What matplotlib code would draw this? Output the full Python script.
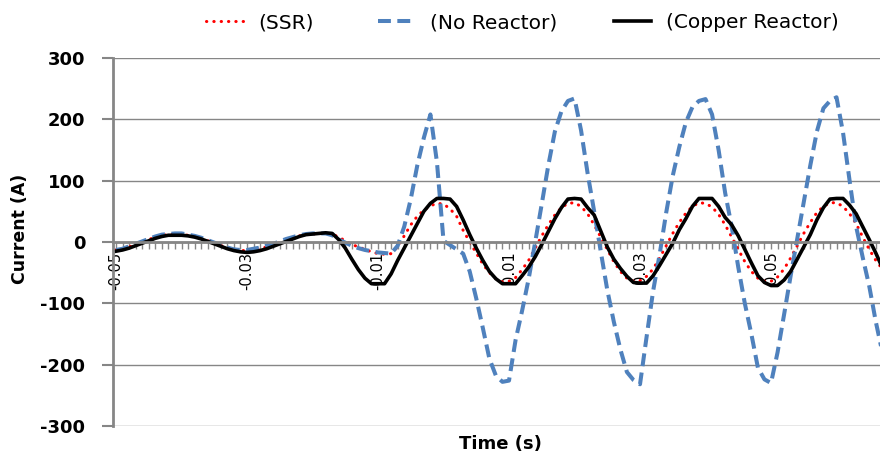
import numpy as np
import matplotlib as mpl
mpl.use('Agg')
import matplotlib.pyplot as plt

mpl.rcParams['axes.unicode_minus'] = False

# time axis: one sample every millisecond, -0.050 s to 0.067 s
time_s = np.arange(-50, 68) / 1000.0

ssr = [-13, -11, -8, -4, 0, 4, 8, 11, 12, 13,
       12, 11, 9, 6, 2, -2, -6, -9, -12, -14,
       -14, -13, -11, -8, -5, -1, 3, 7, 10, 12,
       13, 14, 14, 13, 8, 2, -4, -8, -12, -16,
       -19, -20, -19, -8, 10, 28, 42, 52, 59, 63,
       62, 54, 42, 19, 0, -18, -36, -50, -60, -65,
       -64, -58, -45, -30, -10, 10, 28, 44, 56, 63,
       64, 58, 46, 28, 8, -12, -32, -48, -59, -64,
       -63, -56, -44, -26, -6, 14, 32, 47, 58, 64,
       63, 57, 45, 28, 8, -12, -32, -48, -59, -64,
       -64, -57, -44, -26, -6, 14, 32, 48, 58, 64,
       64, 58, 46, 30, 8, -12, -30, -44]

no_reactor = [-13, -11, -7, -3, 1, 5, 9, 12, 13, 14,
              14, 12, 10, 7, 3, -1, -5, -9, -12, -13,
              -13, -11, -9, -6, -3, 1, 5, 8, 11, 13,
              14, 14, 14, 11, 4, -1, -6, -10, -13, -15,
              -17, -18, -19, -6, 25, 70, 125, 170, 208, 130,
              2, -5, -12, -19, -48, -92, -140, -190, -218, -228,
              -226, -160, -112, -60, 0, 62, 125, 180, 213, 230,
              234, 182, 112, 50, -15, -78, -130, -175, -212, -225,
              -232, -155, -80, -20, 48, 108, 155, 195, 220, 230,
              233, 208, 150, 80, 25, -41, -100, -150, -205, -224,
              -230, -180, -118, -55, 5, 65, 125, 180, 218, 230,
              236, 178, 100, 25, -25, -72, -130, -180]

copper = [-15, -13, -10, -6, -2, 2, 6, 9, 11, 11,
          11, 10, 8, 5, 1, -3, -7, -11, -14, -16,
          -17, -16, -14, -11, -7, -3, 1, 5, 9, 12,
          13, 14, 15, 14, 4, -10, -28, -45, -59, -68,
          -68, -68, -52, -30, -10, 10, 30, 50, 63, 71,
          71, 70, 58, 36, 12, -10, -30, -48, -60, -68,
          -68, -68, -55, -41, -24, -4, 17, 38, 56, 70,
          71, 70, 56, 44, 18, -8, -28, -43, -56, -66,
          -67, -67, -55, -38, -20, -2, 20, 38, 58, 71,
          71, 71, 58, 40, 28, 10, -12, -34, -55, -66,
          -71, -71, -62, -48, -28, -8, 12, 36, 56, 70,
          71, 71, 60, 46, 25, 4, -18, -42]

x_label_pos = [-0.05, -0.03, -0.01, 0.01, 0.03, 0.05]
x_label_txt = ['-0.05', '-0.03', '-0.01', '0.01', '0.03', '0.05']
y_ticks = [-300, -200, -100, 0, 100, 200, 300]

grey = '#868686'

fig = plt.figure(figsize=(8.8, 4.59), dpi=100)
ax = fig.add_axes([113 / 880, 1 - 426 / 459, 767 / 880, 368 / 459])

l_ssr, = ax.plot(time_s, ssr, color='#FF0000', lw=2.2, linestyle=(0, (0.1, 2.3)),
                 dash_capstyle='round', label='(SSR)')
l_no, = ax.plot(time_s, no_reactor, color='#4F81BD', lw=2.9,
                linestyle=(0, (3.2, 1.6)), label='(No Reactor)')
l_cu, = ax.plot(time_s, copper, color='black', lw=2.6, solid_joinstyle='round',
                label='(Copper Reactor)')

ax.set_xlim(-0.05046, 0.06664)
ax.set_ylim(-300, 300)

ax.set_yticks(y_ticks)
ax.grid(axis='y', color=grey, lw=1)
ax.set_axisbelow(True)

for s in ['top', 'right']:
    ax.spines[s].set_visible(False)
ax.spines['left'].set_color(grey)
ax.spines['left'].set_linewidth(2)
ax.spines['bottom'].set_position(('data', 0))
ax.spines['bottom'].set_color(grey)
ax.spines['bottom'].set_linewidth(2)

ax.set_xticks(x_label_pos)
ax.set_xticklabels(x_label_txt)
ax.set_xticks(time_s[:-1], minor=True)
ax.tick_params(axis='x', which='both', direction='out', length=5, width=1,
               color=grey)
ax.tick_params(axis='x', which='major', labelsize=10.5, labelrotation=90, pad=2)

ax.tick_params(axis='y', direction='out', length=8, width=1.5, color=grey,
               pad=12, labelsize=13)
for lbl in ax.get_yticklabels():
    lbl.set_fontweight('bold')

ax.set_ylabel('Current (A)', fontsize=12.5, fontweight='bold', va='center')
ax.yaxis.set_label_coords(-0.121, 0.537)
fig.text(500 / 880, 1 - 444 / 459, 'Time (s)', ha='center', va='center',
         fontsize=13, fontweight='bold')

# legend entries placed one by one along the top
for line, x_px in [(l_ssr, 206), (l_no, 378), (l_cu, 614)]:
    fig.legend(handles=[line], loc='center left',
               bbox_to_anchor=(x_px / 880, 1 - 23 / 459),
               frameon=False, borderpad=0, borderaxespad=0,
               handlelength=1.85, handletextpad=0.75, fontsize=14.5)

fig.savefig('out.png', dpi=100)
